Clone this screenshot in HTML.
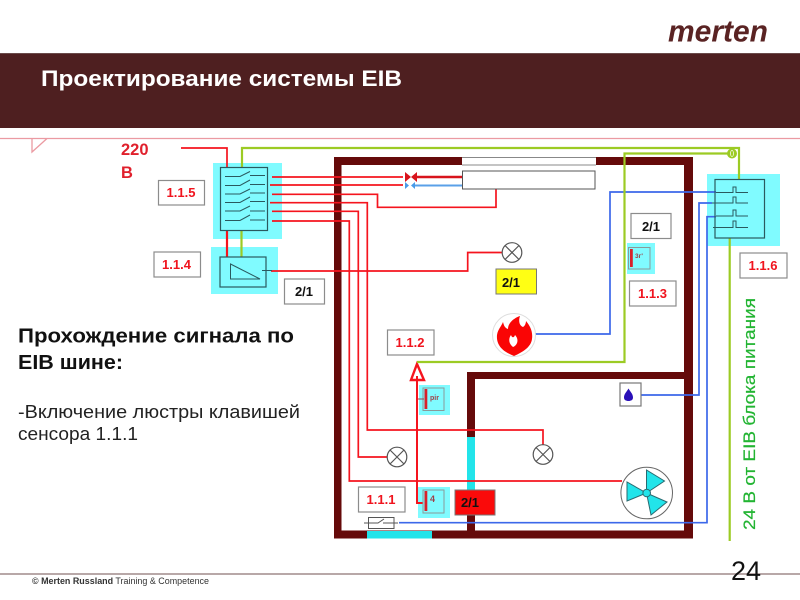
<!DOCTYPE html>
<html><head><meta charset="utf-8"><style>html,body{margin:0;padding:0;background:#fff}svg{display:block}text{font-family:"Liberation Sans",sans-serif}</style></head><body>
<svg width="800" height="600" viewBox="0 0 800 600" xmlns="http://www.w3.org/2000/svg">
<rect x="0" y="54" width="800" height="74" fill="#4e1f20"/>
<rect x="0" y="53" width="800" height="1" fill="#6a4a4a"/>
<text x="668" y="41.700" font-size="31" font-weight="bold" font-style="italic" fill="#5a2323" textLength="100" lengthAdjust="spacingAndGlyphs">merten</text>
<text x="41" y="86" font-size="22" font-weight="bold" fill="#fff" textLength="361" lengthAdjust="spacingAndGlyphs">Проектирование системы EIB</text>
<path d="M0 138.500H47L32 152V138.500M47 138.500H800" fill="none" stroke="#eb9aa2" stroke-width="1.300"/>

<!-- walls -->
<g fill="#650a0a">
<rect x="334" y="157" width="128" height="8"/>
<rect x="596" y="157" width="97" height="8"/>
<rect x="334" y="157" width="7.500" height="381"/>
<rect x="684" y="157" width="9" height="381"/>
<rect x="334" y="530.500" width="359" height="8"/>
<rect x="467" y="372" width="217" height="7"/>
<rect x="467" y="372" width="8" height="160"/>
</g>
<path d="M462 157.500H596M462 165H596" stroke="#888" stroke-width="1"/>
<rect x="467" y="437" width="8" height="53" fill="#22e4ea"/>
<rect x="367" y="531" width="65" height="7.500" fill="#22e4ea"/>

<!-- cyan zones -->
<g fill="#80fbff">
<rect x="213" y="163" width="69" height="76"/>
<rect x="211" y="247" width="67" height="47"/>
<rect x="707" y="174" width="73" height="72"/>
<rect x="627" y="243" width="28" height="31"/>
<rect x="419" y="385" width="31" height="30"/>
<rect x="418" y="487" width="32" height="31"/>
</g>

<!-- red wires -->
<g fill="none" stroke="#f5141e" stroke-width="1.700">
<path d="M181 148H227V167" />
<path d="M227 230V257" stroke-width="2.200"/>
<path d="M272 177H403"/>
<path d="M270 185H403"/>
<path d="M272 194.300H377.500V207.300H496V189"/>
<path d="M270 202.700H367.300V430H543V445"/>
<path d="M272 211.300H358.300V457H387"/>
<path d="M272 221H349.300V481H622"/>
<path d="M271 271H467.700V252.500H502"/>
<path d="M417 376V503H423" stroke-width="2"/>
<path d="M416 177H462" stroke="#d8141c" stroke-width="2.500"/>
</g>
<path d="M417 364L424 380H411Z" fill="none" stroke="#f5141e" stroke-width="2.400"/>
<path d="M405 172V182L411 177ZM417 172V182L411 177Z" fill="#d8141c"/>
<path d="M405 182V189L409 185.500ZM415 182V189L411 185.500Z" fill="#4a9be8"/>
<path d="M415 185.500H462" stroke="#5aa0e8" stroke-width="2" fill="none"/>

<!-- blue wires -->
<g fill="none" stroke="#3c68ea" stroke-width="1.700">
<path d="M535 334H610V192H716"/>
<path d="M712 203H699V395H641"/>
<path d="M716 216.700H707V522.700H399"/>
</g>

<!-- green wires -->
<g fill="none" stroke="#9ccb24" stroke-width="2.200">
<path d="M242 167V148H739V180"/>
<path d="M733 153.500H624.500V362H417"/>
<path d="M241.500 230V257"/>
<path d="M729.700 238V541"/>
</g>
<circle cx="732" cy="153.500" r="5" fill="#9ccb24"/>
<ellipse cx="732" cy="153.500" rx="1.500" ry="3" fill="none" stroke="#fff" stroke-width=".7"/>

<!-- fixture -->
<rect x="462.500" y="171" width="132.500" height="18" fill="#fff" stroke="#555" stroke-width="1"/>

<!-- 1.1.5 -->
<rect x="220.500" y="167.500" width="47" height="63" fill="none" stroke="#2a5a5f" stroke-width="1.200"/>
<g stroke="#2a5a5f" stroke-width="1" fill="none">
<path d="M225 176.500H240L250 171.500M250 175.500H265"/>
<path d="M225 185.500H240L250 180M250 184.500H265"/>
<path d="M225 194H240L250 189M250 193H265"/>
<path d="M225 202.500H240L250 197M250 201.500H265"/>
<path d="M225 211H240L250 206M250 211H265"/>
<path d="M225 220.500H240L250 215M250 220H265"/>
</g>
<!-- 1.1.4 -->
<rect x="220" y="257" width="46" height="30" fill="none" stroke="#2a5a5f" stroke-width="1.200"/>
<path d="M230.500 264V279H260ZM262 270.500H272" fill="none" stroke="#2a5a5f" stroke-width="1"/>
<!-- 1.1.6 -->
<rect x="715" y="179.500" width="49.500" height="58.500" fill="none" stroke="#2a5a5f" stroke-width="1.200"/>
<g stroke="#2a5a5f" stroke-width="1" fill="none">
<path d="M716 192.500H733V187H736V192.500H748"/>
<path d="M712 203H733V197H736V203H748"/>
<path d="M716 216H733V210H736V216H748"/>
<path d="M713 227.500H733V221H736V227.500H748"/>
</g>

<!-- labels -->
<g fill="#fff" stroke="#8c8c8c" stroke-width="1.200">
<rect x="158.500" y="180.500" width="46" height="24.500"/>
<rect x="154" y="252" width="46.500" height="25"/>
<rect x="284.500" y="279" width="40" height="25"/>
<rect x="631" y="213.500" width="40" height="25"/>
<rect x="629.500" y="281" width="46.500" height="25"/>
<rect x="740" y="253" width="47" height="25"/>
<rect x="387.500" y="330" width="46.500" height="25"/>
<rect x="358.500" y="487" width="46.500" height="25"/>
</g>
<rect x="496" y="269" width="40.500" height="25" fill="#ffff14" stroke="#777" stroke-width="1"/>
<rect x="455" y="490" width="40" height="25" fill="#fa0a0a" stroke="#777" stroke-width="1"/>
<g font-size="13" font-weight="bold" fill="#f0141e" text-anchor="middle">
<text x="181" y="197">1.1.5</text>
<text x="176.500" y="269">1.1.4</text>
<text x="652.500" y="298">1.1.3</text>
<text x="763" y="270">1.1.6</text>
<text x="410" y="347">1.1.2</text>
<text x="381" y="504">1.1.1</text>
</g>
<g font-size="13" font-weight="bold" fill="#111" text-anchor="middle">
<text x="304" y="296">2/1</text>
<text x="651" y="231">2/1</text>
<text x="511" y="287">2/1</text>
<text x="470" y="507">2/1</text>
</g>
<text x="121" y="155" font-size="16.500" font-weight="bold" fill="#e0202c">220</text>
<text x="121" y="178" font-size="16.500" font-weight="bold" fill="#e0202c">В</text>

<!-- sensors -->
<rect x="628.500" y="247.500" width="21.500" height="21.500" fill="none" stroke="#8a9a9a" stroke-width="1"/>
<rect x="630" y="249" width="2.800" height="18" fill="#d8202a"/>
<text x="635" y="258" font-size="6.500" font-weight="bold" fill="#a04048">3г'</text>
<rect x="423" y="388" width="21" height="22.500" fill="none" stroke="#8a9a9a" stroke-width="1"/>
<rect x="424.500" y="389" width="2.800" height="20" fill="#d8202a"/>
<path d="M418 399H424" stroke="#a04048" stroke-width="1"/>
<text x="430" y="400" font-size="7" font-weight="bold" fill="#a04048">pir</text>
<rect x="423" y="490" width="21" height="23" fill="none" stroke="#8a9a9a" stroke-width="1"/>
<rect x="424.500" y="491" width="2.800" height="20" fill="#d8202a"/>
<text x="430" y="502" font-size="9" font-weight="bold" fill="#a04048">4</text>

<!-- lamps -->
<g fill="#fff" stroke="#555" stroke-width="1.200">
<g><circle cx="512" cy="252.500" r="9.800"/><path d="M505 245.500L519 259.500M519 245.500L505 259.500"/></g>
<g><circle cx="397" cy="457" r="9.800"/><path d="M390 450L404 464M404 450L390 464"/></g>
<g><circle cx="543" cy="454.500" r="9.800"/><path d="M536 447.500L550 461.500M550 447.500L536 461.500"/></g>
</g>

<!-- fire -->
<circle cx="514" cy="335" r="21.500" fill="#fff" stroke="#ddd" stroke-width="1"/>
<path d="M514 356C504 352 496 346 497 335C498 329 501 327 503 322C504 326 505 328 508 329C508 323 514 318 520 316C518 322 520 326 523 327C525 326 526 323 526 321C530 326 533 331 532 339C531 347 523 352 514 356Z" fill="#fa0505"/>
<path d="M513 347C509 344 508 339 511 335C512 338 514 338 515 335C519 339 518 345 513 347Z" fill="#fff"/>

<!-- water sensor -->
<rect x="620" y="383" width="21" height="23" fill="#fff" stroke="#777" stroke-width="1.200"/>
<path d="M628.500 388.500C626.500 392 624 394 624 397.500C624 400 626 401 628.500 401C631 401 633 400 633 397.500C633 394 630.500 392 628.500 388.500Z" fill="#2a10b8"/>

<!-- switch -->
<rect x="368.500" y="517.500" width="25.500" height="11" fill="#fff" stroke="#555" stroke-width="1"/>
<path d="M364 523H378L384 519M383 523H398" stroke="#555" stroke-width="1" fill="none"/>

<!-- fan -->
<circle cx="646.700" cy="493" r="25.800" fill="#fff" stroke="#666" stroke-width="1"/>
<g fill="#22e4ea" stroke="#2a6a70" stroke-width="1">
<path d="M646.500 493L646.500 470L664.500 481Z"/>
<path d="M646.500 493L627 482L627 501Z"/>
<path d="M646.500 493L667 502L651 515Z"/>
<circle cx="646.700" cy="493" r="3.800"/>
</g>

<!-- green vertical text -->
<text transform="translate(755 530) rotate(-90)" font-size="17" fill="#22b432" stroke="#22b432" stroke-width=".2" textLength="232" lengthAdjust="spacingAndGlyphs">24 В от EIB блока питания</text>

<!-- left text -->
<text x="18" y="342.700" font-size="20" font-weight="bold" fill="#111" textLength="276" lengthAdjust="spacingAndGlyphs">Прохождение сигнала по</text>
<text x="18" y="369" font-size="20" font-weight="bold" fill="#111" textLength="105" lengthAdjust="spacingAndGlyphs">EIB шине:</text>
<text x="18" y="418" font-size="18" fill="#222" textLength="282" lengthAdjust="spacingAndGlyphs">-Включение люстры клавишей</text>
<text x="18" y="440" font-size="18" fill="#222" textLength="120" lengthAdjust="spacingAndGlyphs">сенсора 1.1.1</text>

<!-- footer -->
<rect x="0" y="573" width="800" height="2" fill="#b8a8a8"/>
<text x="32" y="584" font-size="9" fill="#333" textLength="177" lengthAdjust="spacingAndGlyphs"><tspan font-weight="bold">© Merten Russland</tspan> Training &amp; Competence</text>
<text x="731" y="580" font-size="27" fill="#111">24</text>
</svg>
</body></html>
